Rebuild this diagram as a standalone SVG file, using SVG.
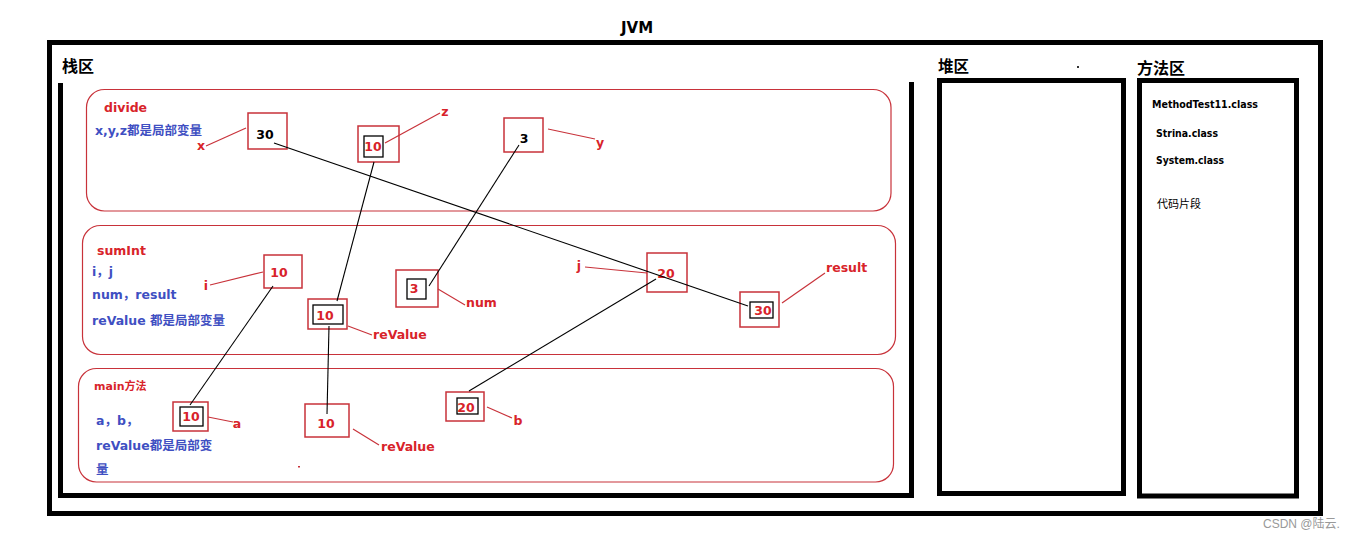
<svg xmlns="http://www.w3.org/2000/svg" width="1356" height="539" viewBox="0 0 1356 539">
<style>
text{font-family:"DejaVu Sans","Noto Sans CJK SC",sans-serif;font-weight:bold}
.k{fill:#000}
.r{fill:#d8232a}
.b{fill:#3f4fc2}
.frame{fill:none;stroke:#000;stroke-width:5}
.sf{fill:none;stroke:#c8323a;stroke-width:1.2}
.box{fill:none;stroke:#c8323a;stroke-width:1.5}
.inner{fill:none;stroke:#000;stroke-width:1.3}
.lead{stroke:#c8323a;stroke-width:1.2;fill:none}
.wire{stroke:#000;stroke-width:1.1;fill:none}
.t13{font-size:12.5px}
.t12{font-size:12px}
.t11{font-size:11px}
.mid{text-anchor:middle;dominant-baseline:central}
</style>
<rect width="1356" height="539" fill="#fff"/>
<text x="637" y="28" class="k mid" style="font-size:15px" dominant-baseline="auto">JVM</text>
<g id="jvm">
<rect class="frame" x="49.5" y="42.5" width="1271" height="471"/>
</g>
<g id="stack">
<path class="frame" d="M60.5 83 V495.5 H911.5 V82"/>
<text x="62" y="72" class="k" style="font-size:16px">栈区</text>
</g>
<g id="heap">
<rect class="frame" x="939.5" y="80.5" width="184" height="413"/>
<text x="938" y="72" class="k" style="font-size:15.5px">堆区</text>
<rect x="1077" y="66" width="2" height="2" fill="#333"/>
</g>
<g id="method-area">
<rect class="frame" x="1139.5" y="80.5" width="157" height="415.5"/>
<text x="1137" y="74" class="k" style="font-size:16px">方法区</text>
<text x="1152" y="108" class="k t11" textLength="106" lengthAdjust="spacingAndGlyphs">MethodTest11.class</text>
<text x="1156" y="137" class="k t11" textLength="62" lengthAdjust="spacingAndGlyphs">Strina.class</text>
<text x="1156" y="164" class="k t11" textLength="68" lengthAdjust="spacingAndGlyphs">System.class</text>
<text x="1157" y="208" class="k t11" style="font-weight:normal">代码片段</text>
</g>
<g id="divide">
<rect class="sf" x="86.5" y="89.5" width="804.5" height="121.5" rx="18"/>
<text x="104" y="112" class="r t13">divide</text>
<text x="95" y="135" class="b t13">x,y,z都是局部变量</text>
</g>
<g id="var-x">
<rect class="box" x="248" y="113" width="39" height="36"/>
<text x="265" y="134" class="k mid t13">30</text>
<line class="lead" x1="206" y1="146" x2="246" y2="128"/>
<text x="201" y="145" class="r mid t13">x</text>
</g>
<g id="var-z">
<rect class="box" x="358" y="126" width="41" height="36"/>
<rect class="inner" x="364" y="136" width="19" height="21"/>
<text x="373" y="146" class="r mid t13">10</text>
<line class="lead" x1="385" y1="143" x2="440" y2="113"/>
<text x="445" y="111" class="r mid t13">z</text>
</g>
<g id="var-y">
<rect class="box" x="504" y="118" width="39" height="34"/>
<text x="524" y="138" class="k mid t13">3</text>
<line class="lead" x1="548" y1="129" x2="595" y2="139"/>
<text x="600" y="142" class="r mid t13">y</text>
</g>
<g id="sumInt">
<rect class="sf" x="82.5" y="225.5" width="813" height="129" rx="18"/>
<text x="97" y="255" class="r t13">sumInt</text>
<text x="92" y="276" class="b t13">i，j</text>
<text x="92" y="299" class="b t13">num，result</text>
<text x="92" y="325" class="b t13">reValue 都是局部变量</text>
</g>
<g id="var-i">
<rect class="box" x="264" y="255" width="38" height="33"/>
<text x="279" y="272" class="r mid t13">10</text>
<line class="lead" x1="210" y1="285" x2="263" y2="272"/>
<text x="206" y="285" class="r mid t13">i</text>
</g>
<g id="var-reValue-sum">
<rect class="box" x="308" y="299" width="39" height="30"/>
<rect class="inner" x="313" y="305" width="30" height="19"/>
<text x="325" y="315" class="r mid t13">10</text>
<line class="lead" x1="348" y1="326" x2="372" y2="335"/>
<text x="373" y="339" class="r t13">reValue</text>
</g>
<g id="var-num">
<rect class="box" x="396" y="270" width="42" height="37"/>
<rect class="inner" x="407" y="279" width="19" height="20"/>
<text x="414" y="288" class="r mid t13">3</text>
<line class="lead" x1="438" y1="289" x2="465" y2="305"/>
<text x="466" y="307" class="r t13">num</text>
</g>
<g id="var-j">
<rect class="box" x="647" y="253" width="40" height="39"/>
<text x="666" y="273" class="r mid t13">20</text>
<line class="lead" x1="585" y1="267" x2="647" y2="273"/>
<text x="579" y="265" class="r mid t13">j</text>
</g>
<g id="var-result">
<rect class="box" x="740" y="292" width="39" height="35"/>
<rect class="inner" x="750" y="302" width="23" height="16"/>
<text x="763" y="310" class="r mid t13">30</text>
<line class="lead" x1="782" y1="303" x2="825" y2="273"/>
<text x="826" y="272" class="r t13">result</text>
</g>
<g id="main">
<rect class="sf" x="78.5" y="368.5" width="815" height="113.5" rx="18"/>
<text x="94" y="390" class="r t11">main方法</text>
<text x="96" y="425" class="b t13">a，b，</text>
<text x="96" y="450" class="b t13">reValue都是局部变</text>
<text x="96" y="474" class="b t13">量</text>
<rect x="298" y="466" width="2" height="1.5" fill="#c8323a"/>
</g>
<g id="var-a">
<rect class="box" x="173" y="402" width="35" height="29"/>
<rect class="inner" x="180" y="407" width="23" height="19"/>
<text x="191" y="416" class="r mid t13">10</text>
<line class="lead" x1="208" y1="417" x2="233" y2="422"/>
<text x="237" y="423" class="r mid t13">a</text>
</g>
<g id="var-reValue-main">
<rect class="box" x="305" y="404" width="44" height="33"/>
<text x="326" y="423" class="r mid t13">10</text>
<line class="lead" x1="353" y1="429" x2="379" y2="445"/>
<text x="381" y="451" class="r t13">reValue</text>
</g>
<g id="var-b">
<rect class="box" x="446" y="392" width="38" height="29"/>
<rect class="inner" x="457" y="398" width="21" height="16"/>
<text x="466" y="407" class="r mid t13">20</text>
<line class="lead" x1="487" y1="407" x2="512" y2="418"/>
<text x="518" y="420" class="r mid t13">b</text>
</g>
<g id="connectors">
<line class="wire" x1="274" y1="143" x2="748" y2="306"/>
<line class="wire" x1="374" y1="162" x2="337" y2="301"/>
<line class="wire" x1="519" y1="145" x2="429" y2="286"/>
<line class="wire" x1="273" y1="286" x2="190" y2="405"/>
<line class="wire" x1="329" y1="326" x2="327" y2="414"/>
<line class="wire" x1="656" y1="279" x2="469" y2="391"/>
</g>
<text x="1263" y="528" style="font-family:'Liberation Sans','Noto Sans CJK SC',sans-serif;font-weight:normal;font-size:12px;fill:#999">CSDN @陆云.</text>
</svg>
